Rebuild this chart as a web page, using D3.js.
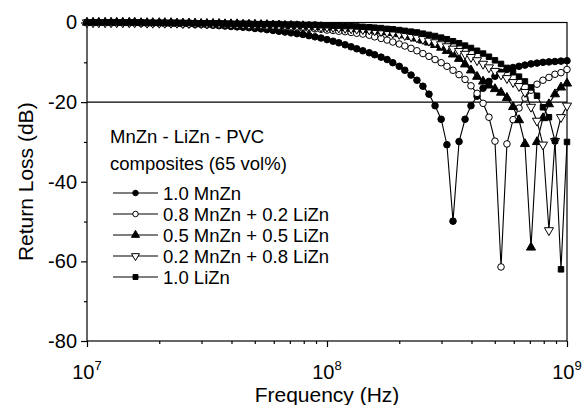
<!DOCTYPE html>
<html><head><meta charset="utf-8">
<script src="https://cdn.jsdelivr.net/npm/d3@7"></script>
<style>body{margin:0;background:#fff} svg text{font-family:"Liberation Sans",Arial,sans-serif;fill:#000}</style>
</head><body><svg id="c" width="584" height="405"></svg>
<script>
// Frequency sweep (MHz)
const freqMHz = [10,10.6,11.2,11.9,12.6,13.3,14.1,15.0,15.8,16.8,
 17.8,18.8,20.0,21.1,22.4,23.7,25.1,26.6,28.2,29.9,
 31.6,33.5,35.5,37.6,39.8,42.2,44.7,47.3,50.1,53.1,
 56.2,59.6,63.1,66.8,70.8,75.0,79.4,84.1,89.1,94.4,
 100,106,112,119,126,133,141,150,158,168,
 178,188,200,211,224,237,251,266,282,299,
 316,335,355,376,398,422,447,473,501,531,
 562,596,631,668,708,750,794,841,891,944,1000];
// Return loss (dB)
const mnzn10 = [0,0,0,0,-0.1,-0.1,-0.1,-0.1,-0.1,-0.2,
 -0.2,-0.2,-0.2,-0.3,-0.3,-0.3,-0.4,-0.4,-0.5,-0.5,
 -0.6,-0.7,-0.8,-0.9,-1.0,-1.1,-1.2,-1.3,-1.5,-1.6,
 -1.8,-2.0,-2.2,-2.4,-2.6,-2.8,-3.0,-3.3,-3.6,-3.9,
 -4.3,-4.7,-5.1,-5.6,-6.1,-6.6,-7.1,-7.6,-8.1,-8.7,
 -9.3,-10.1,-11.0,-12.0,-13.2,-14.5,-16.0,-18.0,-20.9,-24.3,
 -30.7,-49.9,-29.9,-24.3,-20.9,-18.5,-16.5,-14.8,-13.5,-12.5,
 -11.8,-11.3,-11.0,-10.7,-10.4,-10.2,-10.0,-9.9,-9.8,-9.7,-9.6];
const mnzn08 = [0,0,0,0,0,0,0,-0.1,-0.1,-0.1,
 -0.1,-0.1,-0.1,-0.2,-0.2,-0.2,-0.2,-0.3,-0.3,-0.3,
 -0.4,-0.4,-0.4,-0.5,-0.5,-0.6,-0.6,-0.7,-0.7,-0.8,
 -0.9,-0.9,-1.0,-1.1,-1.2,-1.3,-1.4,-1.5,-1.6,-1.7,
 -1.9,-2.0,-2.2,-2.3,-2.5,-2.7,-2.9,-3.2,-3.6,-4.0,
 -4.4,-4.9,-5.4,-5.9,-6.5,-7.1,-7.8,-8.5,-9.3,-10.1,
 -11.0,-12.0,-13.1,-14.3,-15.9,-17.8,-20.3,-23.8,-29.8,-61.4,
 -30.5,-24.4,-21.5,-19.0,-17.0,-15.5,-14.5,-13.8,-13.0,-12.6,-11.8];
const mnzn05 = [0,0,0,0,0,0,0,0,0,-0.1,
 -0.1,-0.1,-0.1,-0.1,-0.1,-0.2,-0.2,-0.2,-0.2,-0.3,
 -0.3,-0.3,-0.3,-0.4,-0.4,-0.4,-0.5,-0.5,-0.5,-0.6,
 -0.6,-0.7,-0.7,-0.8,-0.8,-0.9,-0.9,-1.0,-1.0,-1.1,
 -1.2,-1.2,-1.3,-1.4,-1.5,-1.6,-1.7,-1.8,-2.0,-2.2,
 -2.4,-2.6,-2.9,-3.2,-3.6,-4.0,-4.5,-5.0,-5.6,-6.3,
 -7.1,-8.0,-9.1,-10.5,-12.0,-13.6,-14.8,-15.8,-16.7,-17.6,
 -18.9,-21.2,-24.5,-30.5,-56.5,-30.0,-24.0,-20.5,-18.0,-16.3,-15.3];
const mnzn02 = [0,0,0,0,0,0,0,0,0,0,
 -0.1,-0.1,-0.1,-0.1,-0.1,-0.1,-0.2,-0.2,-0.2,-0.2,
 -0.3,-0.3,-0.3,-0.3,-0.4,-0.4,-0.4,-0.5,-0.5,-0.5,
 -0.6,-0.6,-0.7,-0.7,-0.8,-0.8,-0.9,-0.9,-1.0,-1.1,
 -1.1,-1.2,-1.3,-1.4,-1.5,-1.6,-1.7,-1.8,-2.0,-2.2,
 -2.4,-2.6,-2.9,-3.2,-3.5,-3.8,-4.2,-4.6,-5.0,-5.5,
 -6.0,-6.6,-7.2,-7.9,-8.7,-9.5,-10.4,-11.3,-12.2,-13.1,
 -14.0,-15.0,-16.0,-17.5,-21.2,-24.7,-30.7,-52.2,-29.8,-23.8,-20.9];
const lizn10 = [0,0,0,0,0,0,0,0,0,0,
 -0.1,-0.1,-0.1,-0.1,-0.1,-0.1,-0.1,-0.1,-0.2,-0.2,
 -0.2,-0.2,-0.2,-0.3,-0.3,-0.3,-0.3,-0.3,-0.4,-0.4,
 -0.4,-0.4,-0.4,-0.5,-0.5,-0.5,-0.6,-0.6,-0.6,-0.7,
 -0.7,-0.8,-0.8,-0.9,-0.9,-1.0,-1.1,-1.2,-1.3,-1.4,
 -1.6,-1.7,-1.9,-2.1,-2.3,-2.5,-2.8,-3.1,-3.4,-3.8,
 -4.2,-4.7,-5.2,-5.8,-6.4,-7.1,-7.8,-8.6,-9.5,-10.4,
 -11.4,-12.5,-13.6,-14.8,-16.3,-18.4,-21.3,-23.8,-29.7,-62.0,-30.0];

const seriesNames = ["1.0 MnZn","0.8 MnZn + 0.2 LiZn","0.5 MnZn + 0.5 LiZn","0.2 MnZn + 0.8 LiZn","1.0 LiZn"];
const legendTitle = ["MnZn - LiZn - PVC","composites (65 vol%)"];
const yTicks = [0,-20,-40,-60,-80];
const yMinor = [-10,-30,-50,-70];
const xMajor = [1e7,1e8,1e9];
const xExp = ["7","8","9"];

const svg = d3.select("#c");
const L=87,R=567,T=22.5,B=341;
const x = d3.scaleLog().domain([1e7,1e9]).range([L,R]);
const y = d3.scaleLinear().domain([-80,0]).range([B,T]);

const markers = [
  {type:d3.symbolCircle, fill:"#000", rot:0, size:34, lsize:24},
  {type:d3.symbolCircle, fill:"#fff", rot:0, size:34, lsize:24},
  {type:d3.symbolTriangle, fill:"#000", rot:0, size:36, lsize:28},
  {type:d3.symbolTriangle, fill:"#fff", rot:180, size:36, lsize:28},
  {type:d3.symbolSquare, fill:"#000", rot:0, size:30, lsize:24}
];
const seriesVals = [mnzn10,mnzn08,mnzn05,mnzn02,lizn10];

// axes
const xMinorVals = [];
[1e7,1e8].forEach(d=>{for(let k=2;k<=9;k++) xMinorVals.push(d*k);});
svg.append("g").attr("transform",`translate(0,${B})`)
  .call(d3.axisBottom(x).tickValues(xMajor).tickSize(6).tickFormat(""))
  .call(g=>g.select(".domain").remove()).selectAll("line").attr("stroke-width",1.2);
svg.append("g").attr("transform",`translate(0,${B})`)
  .call(d3.axisBottom(x).tickValues(xMinorVals).tickSize(3).tickFormat(""))
  .call(g=>g.select(".domain").remove()).selectAll("line").attr("stroke-width",1.2);
const ya = svg.append("g").attr("transform",`translate(${L},0)`)
  .call(d3.axisLeft(y).tickValues(yTicks).tickSize(6).tickPadding(4).tickFormat(d=>d));
ya.select(".domain").remove();
ya.selectAll("line").attr("stroke-width",1.2);
ya.selectAll("text").attr("font-size",20).style("font-family",'"Liberation Sans",Arial,sans-serif');
svg.append("g").attr("transform",`translate(${L},0)`)
  .call(d3.axisLeft(y).tickValues(yMinor).tickSize(3).tickFormat(""))
  .call(g=>g.select(".domain").remove()).selectAll("line").attr("stroke-width",1.2);

// x labels
xMajor.forEach((v,i)=>{
  const t = svg.append("text").attr("x",x(v)).attr("y",379).attr("text-anchor","middle").attr("font-size",20);
  t.append("tspan").text("10");
  t.append("tspan").attr("dy",-9).attr("font-size",13).text(xExp[i]);
});
svg.append("text").attr("x",(L+R)/2).attr("y",402).attr("text-anchor","middle").attr("font-size",21).text("Frequency (Hz)");
svg.append("text").attr("transform",`translate(33,${(T+B)/2}) rotate(-90)`).attr("text-anchor","middle").attr("font-size",21).text("Return Loss (dB)");

// frame and -20 line
svg.append("rect").attr("x",L).attr("y",T).attr("width",R-L).attr("height",B-T).attr("fill","none").attr("stroke","#000").attr("stroke-width",1.2);
svg.append("line").attr("x1",L).attr("x2",R).attr("y1",y(-20)).attr("y2",y(-20)).attr("stroke","#000").attr("stroke-width",1.2);

// series
const line = d3.line().x(d=>x(d[0]*1e6)).y(d=>y(d[1]));
seriesVals.forEach((vals,si)=>{
  const pts = freqMHz.map((f,i)=>[f,vals[i]]);
  const m = markers[si];
  svg.append("path").attr("d",line(pts)).attr("fill","none").attr("stroke","#000").attr("stroke-width",1.1);
  svg.append("g").selectAll("path").data(pts).join("path")
    .attr("d",d3.symbol().type(m.type).size(m.size))
    .attr("transform",d=>`translate(${x(d[0]*1e6)},${y(d[1])}) rotate(${m.rot})`)
    .attr("fill",m.fill).attr("stroke","#000").attr("stroke-width",1);
});

// legend
legendTitle.forEach((t,i)=>{
  svg.append("text").attr("x",110).attr("y",143+i*27).attr("font-size",18.5).text(t);
});
seriesNames.forEach((n,i)=>{
  const cy = 193+i*21;
  svg.append("line").attr("x1",113).attr("x2",158).attr("y1",cy).attr("y2",cy).attr("stroke","#000").attr("stroke-width",1.1);
  const m = markers[i];
  svg.append("path").attr("d",d3.symbol().type(m.type).size(m.lsize)())
    .attr("transform",`translate(135.5,${cy}) rotate(${m.rot})`).attr("fill",m.fill).attr("stroke","#000").attr("stroke-width",1);
  svg.append("text").attr("x",163).attr("y",cy+6.5).attr("font-size",18.5).text(n);
});
</script></body></html>
